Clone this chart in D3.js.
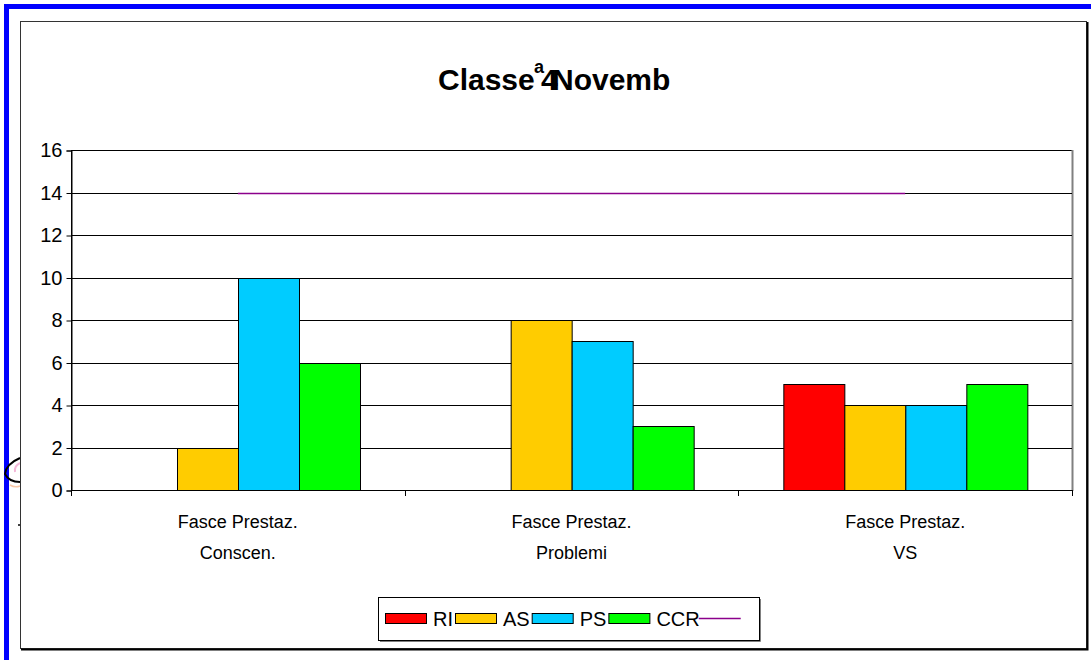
<!DOCTYPE html>
<html>
<head>
<meta charset="utf-8">
<script src="https://cdn.jsdelivr.net/npm/d3@7"></script>
<style>
  body { margin: 0; background: #fff; }
  text { font-family: "Liberation Sans", Arial, sans-serif; fill: #000; }
</style>
</head>
<body>
<svg id="chart" width="1091" height="660"></svg>
<script>

  var categories = [["Fasce Prestaz.", "Conscen."], ["Fasce Prestaz.", "Problemi"], ["Fasce Prestaz.", "VS"]];
  var seriesNames = ["RI", "AS", "PS", "CCR"];
  var seriesColors = ["#ff0000", "#ffcc00", "#00ccff", "#00ff00"];
  var RI = [0, 0, 5];
  var AS = [2, 8, 4];
  var PS = [10, 7, 4];
  var CCR = [6, 3, 5];
  var lineValues = [14, 14, 14];
  var yTicks = [0, 2, 4, 6, 8, 10, 12, 14, 16];

  var seriesValues = [RI, AS, PS, CCR];

  var svg = d3.select('#chart');

  var plotLeft = 71, plotRight = 1072, plotTop = 150, plotBottom = 490;

  var x0 = d3.scaleBand()
    .domain(d3.range(categories.length))
    .range([plotLeft, plotRight])
    .padding(0);

  var x1 = d3.scaleBand()
    .domain(seriesNames)
    .range([0, x0.bandwidth()])
    .paddingInner(0)
    .paddingOuter(0.735);

  var y = d3.scaleLinear()
    .domain([0, 16])
    .range([plotBottom, plotTop]);

  // blue frame at top and left
  svg.append('rect').attr('x', 4).attr('y', 4).attr('width', 1087).attr('height', 5).attr('fill', '#0000ff');
  svg.append('rect').attr('x', 4).attr('y', 4).attr('width', 5).attr('height', 656).attr('fill', '#0000ff');

  // little arc left over behind the chart
  svg.append('path')
    .attr('d', 'M20,458 Q6,464 5,474 Q9,482 20,482')
    .attr('fill', 'none')
    .attr('stroke', '#000')
    .attr('stroke-width', 2);
  svg.append('path')
    .attr('d', 'M20,463 Q14,466 15,472')
    .attr('fill', 'none')
    .attr('stroke', '#f4b8d8')
    .attr('stroke-width', 2);
  svg.append('path')
    .attr('d', 'M10,485 Q15,488 20,486')
    .attr('fill', 'none')
    .attr('stroke', '#f8c8a8')
    .attr('stroke-width', 1.5);
  svg.append('circle').attr('cx', 19).attr('cy', 525).attr('r', 1).attr('fill', '#000');

  // chart area
  svg.append('rect')
    .attr('x', 20.5).attr('y', 21.5)
    .attr('width', 1066).attr('height', 627)
    .attr('fill', '#fff')
    .attr('stroke', '#333');
  svg.append('path')
    .attr('d', 'M1087.5,22 V649.5 H21')
    .attr('fill', 'none')
    .attr('stroke', '#000')
    .attr('stroke-width', 2);

  // title
  var title = svg.append('g').style('font-weight', 'bold');
  title.append('text').attr('x', 438).attr('y', 90).style('font-size', '30px').text('Classe');
  title.append('text').attr('x', 534).attr('y', 73).style('font-size', '18px').text('a');
  title.append('text').attr('x', 541).attr('y', 90).style('font-size', '30px').text('4');
  title.append('text').attr('x', 552).attr('y', 90).style('font-size', '30px').text('Novemb');

  // plot border and gridlines
  svg.append('rect')
    .attr('x', plotLeft + 0.5).attr('y', plotTop + 0.5)
    .attr('width', plotRight - plotLeft).attr('height', plotBottom - plotTop)
    .attr('fill', '#fff')
    .attr('stroke', '#000');
  svg.append('line')
    .attr('x1', plotRight + 0.5).attr('x2', plotRight + 0.5)
    .attr('y1', plotTop).attr('y2', plotBottom + 1)
    .attr('stroke', '#808080').attr('stroke-width', 2);

  svg.selectAll('.grid')
    .data(yTicks.filter(function (d) { return d > 0 && d < 16; }))
    .enter()
    .append('line')
      .attr('class', 'grid')
      .attr('x1', plotLeft).attr('x2', plotRight)
      .attr('y1', function (d) { return Math.round(y(d)) + 0.5; })
      .attr('y2', function (d) { return Math.round(y(d)) + 0.5; })
      .attr('stroke', '#000');

  // y axis
  var yAxis = svg.append('g')
    .attr('transform', 'translate(' + (plotLeft + 0.5) + ',0.5)')
    .call(d3.axisLeft(y).tickValues(yTicks).tickSize(5).tickPadding(4));
  yAxis.selectAll('text').style('font-size', '20px').style('font-family', '"Liberation Sans", Arial, sans-serif');
  yAxis.selectAll('line, path').attr('stroke', '#000');

  // bars
  var groups = svg.selectAll('.group')
    .data(categories)
    .enter()
    .append('g')
      .attr('class', 'group')
      .attr('transform', function (d, i) { return 'translate(' + x0(i) + ',0)'; });

  groups.selectAll('rect')
    .data(function (d, i) {
      return seriesNames.map(function (s, j) {
        return { name: s, value: seriesValues[j][i], color: seriesColors[j] };
      });
    })
    .enter()
    .append('rect')
      .attr('x', function (d) { return Math.round(x1(d.name)) + 0.5; })
      .attr('y', function (d) { return Math.round(y(d.value)) + 0.5; })
      .attr('width', function (d) { return Math.round(x1.bandwidth()); })
      .attr('height', function (d) { return Math.round(y(0)) - Math.round(y(d.value)); })
      .attr('fill', function (d) { return d.color; })
      .attr('stroke', function (d) { return d.value > 0 ? '#000' : 'none'; });

  // x axis
  svg.append('line')
    .attr('x1', plotLeft).attr('x2', plotRight + 1)
    .attr('y1', plotBottom + 0.5).attr('y2', plotBottom + 0.5)
    .attr('stroke', '#000');
  svg.selectAll('.xtick')
    .data(d3.range(categories.length + 1))
    .enter()
    .append('line')
      .attr('class', 'xtick')
      .attr('x1', function (d) { return Math.round(plotLeft + d * x0.step()) + 0.5; })
      .attr('x2', function (d) { return Math.round(plotLeft + d * x0.step()) + 0.5; })
      .attr('y1', plotBottom).attr('y2', plotBottom + 6)
      .attr('stroke', '#000');

  var xLabels = svg.selectAll('.xlabel')
    .data(categories)
    .enter()
    .append('text')
      .attr('class', 'xlabel')
      .attr('text-anchor', 'middle')
      .style('font-size', '18px');
  xLabels.selectAll('tspan')
    .data(function (d, i) { return d.map(function (t) { return { t: t, i: i }; }); })
    .enter()
    .append('tspan')
      .attr('x', function (d) { return x0(d.i) + x0.bandwidth() / 2; })
      .attr('y', function (d, k) { return 528 + k * 31; })
      .text(function (d) { return d.t; });

  // purple line series
  var line = d3.line()
    .x(function (d, i) { return x0(i) + x0.bandwidth() / 2; })
    .y(function (d) { return Math.round(y(d)) + 0.5; });
  svg.append('path')
    .datum(lineValues)
    .attr('d', line)
    .attr('fill', 'none')
    .attr('stroke', '#8b008b')
    .attr('stroke-width', 1.5);

  // legend
  var legend = svg.append('g');
  legend.append('rect')
    .attr('x', 378.5).attr('y', 597.5)
    .attr('width', 381).attr('height', 43)
    .attr('fill', '#fff')
    .attr('stroke', '#000');
  svg.append('path')
    .attr('d', 'M380,641.5 H760.5 V599')
    .attr('fill', 'none')
    .attr('stroke', '#808080');

  var lx = 385;
  seriesNames.forEach(function (s, j) {
    legend.append('rect')
      .attr('x', lx + 0.5).attr('y', 613.5)
      .attr('width', 41).attr('height', 10)
      .attr('fill', seriesColors[j])
      .attr('stroke', '#000');
    var t = legend.append('text')
      .attr('x', lx + 48).attr('y', 626)
      .style('font-size', '20px')
      .text(s);
    lx = lx + 48 + t.node().getComputedTextLength() + 2;
  });
  legend.append('line')
    .attr('x1', lx - 3).attr('x2', lx + 39)
    .attr('y1', 618.5).attr('y2', 618.5)
    .attr('stroke', '#8b008b')
    .attr('stroke-width', 1.5);

</script>
</body>
</html>
